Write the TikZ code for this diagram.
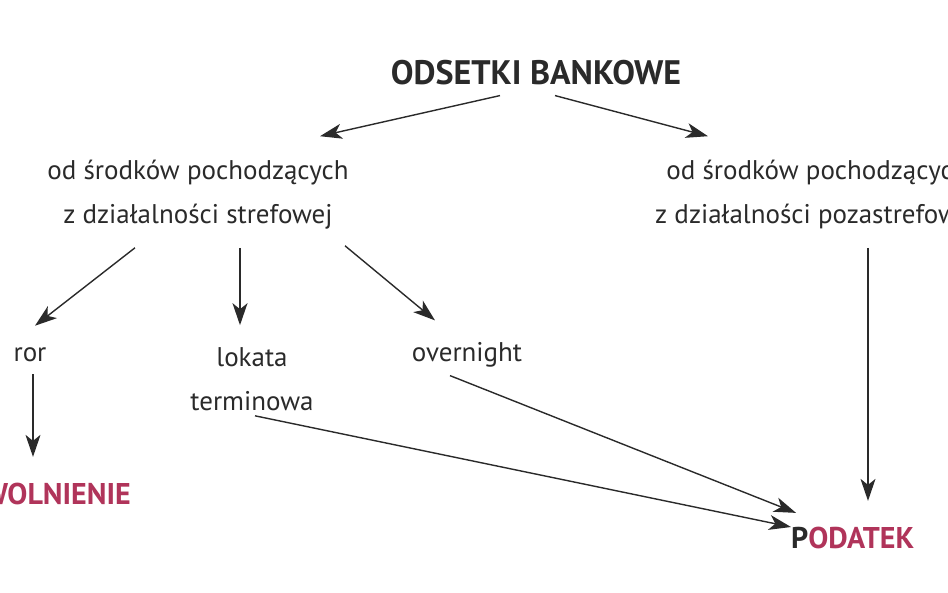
\documentclass[tikz,border=0pt]{standalone}
\usepackage{fontspec}
\setmainfont{PT Sans}
\usetikzlibrary{arrows.meta,calc}
\definecolor{txtgray}{HTML}{2A2A2A}
\definecolor{wine}{HTML}{B0345A}
\tikzstyle{lbl}=[text=txtgray, font=\fontsize{27}{44}\selectfont, align=center, inner sep=0pt]
\tikzstyle{head}=[lbl, font=\fontsize{34}{36}\selectfont\bfseries]
\tikzstyle{res}=[lbl, text=wine, font=\fontsize{30}{32}\selectfont\bfseries]
\tikzstyle{conn}=[draw=txtgray, line width=1.4pt, -{Stealth[length=22pt,width=15pt,inset=6pt]}]
\begin{document}
\begin{tikzpicture}[x=1pt,y=-1pt]
\useasboundingbox (0,0) rectangle (948,593);
\clip (0,0) rectangle (948,593);

\node (ODS) [head] at (536,73) {ODSETKI BANKOWE};
\node (STR) [lbl] at (198,195) {od środków pochodzących\\z działalności strefowej};
\node (POZ) [lbl, anchor=west] at (655,195) {od środków pochodzących\\z działalności pozastrefowej};
\node (ROR) [lbl] at (30,355) {ror};
\node (LOK) [lbl] at (252,379) {lokata\\terminowa};
\node (OVN) [lbl] at (467,355) {overnight};
\node (ZWL) [res, anchor=east] at (131,494) {ZWOLNIENIE};
\node (POD) [res, anchor=west] at (791,538) {\textcolor{txtgray}{P}ODATEK};

\draw[conn] ($(ODS.south)+(-36,10)$) -- ($(STR.north)+(122,-24)$);
\draw[conn] ($(ODS.south)+(19,10)$) -- ($(POZ.north west)+(53,-24)$);
\draw[conn] ($(STR.south)+(-63,18)$) -- ($(ROR.north)+(5,-22)$);
\draw[conn] ($(STR.south)+(42,18)$) -- ($(LOK.north)+(-12,-22)$);
\draw[conn] ($(STR.south)+(147,16)$) -- ($(OVN.north)+(-32,-22)$);
\draw[conn] ($(ROR.south)+(3,12)$) -- ($(ZWL.north east)+(-98,-26)$);
\draw[conn] ($(POZ.south west)+(213,18)$) -- ($(POD.north west)+(77,-26)$);
\draw[conn] ($(OVN.south)+(-17,8)$) -- ($(POD.north west)+(5,-14)$);
\draw[conn] ($(LOK.south)+(3,5)$) -- ($(POD.west)+(0,-11)$);
\end{tikzpicture}
\end{document}
